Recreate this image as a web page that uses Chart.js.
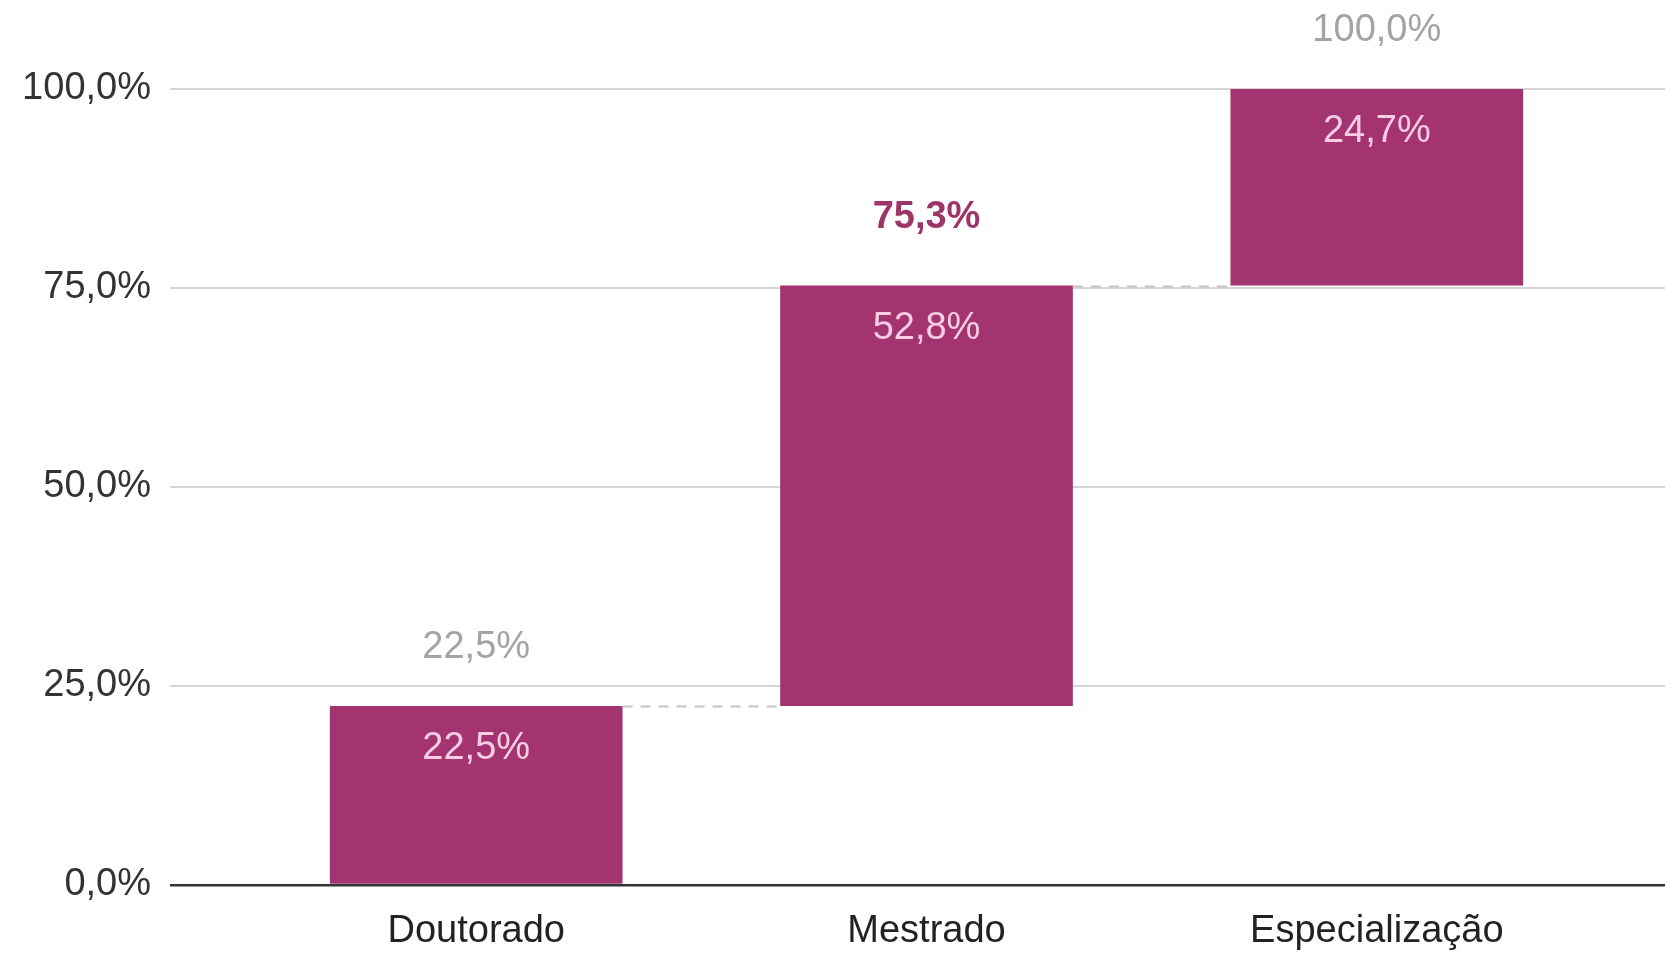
<!DOCTYPE html>
<html>
<head>
<meta charset="utf-8">
<script src="https://cdn.jsdelivr.net/npm/chart.js@4/dist/chart.umd.min.js"></script>
<style>
  html, body { margin: 0; padding: 0; background: #fff; }
  #wrap { width: 1665px; height: 953px; }
</style>
</head>
<body>
<div id="wrap"><canvas id="waterfall"></canvas></div>
<script>
/* global Chart */

// data
const categories = ['Doutorado', 'Mestrado', 'Especialização'];
const shares = [22.5, 52.8, 24.7];
const starts = [0, 22.5, 75.3];
const totals = [22.5, 75.3, 100.0];
const yTicks = [0, 25, 50, 75, 100];
const highlighted = 1; // the bold total above Mestrado

const barColor = '#a3346f';
const fontFamily = '"Liberation Sans", Arial, sans-serif';

const fmt = (v) => v.toFixed(1).replace('.', ',') + '%';

// labels in and above the bars + dashed connectors
const waterfallLabels = {
  id: 'waterfallLabels',
  afterDatasetsDraw(chart) {
    const { ctx } = chart;
    const yScale = chart.scales.y;
    const meta = chart.getDatasetMeta(0);
    ctx.save();

    // connectors
    ctx.strokeStyle = '#c4c4c4';
    ctx.lineWidth = 2;
    ctx.setLineDash([10, 8]);
    for (let i = 0; i < meta.data.length - 1; i++) {
      const a = meta.data[i];
      const b = meta.data[i + 1];
      const y = Math.round(yScale.getPixelForValue(totals[i])) + 0.5;
      ctx.beginPath();
      ctx.moveTo(a.x + a.width / 2, y);
      ctx.lineTo(b.x - b.width / 2, y);
      ctx.stroke();
    }
    ctx.setLineDash([]);

    ctx.textAlign = 'center';
    ctx.textBaseline = 'middle';
    meta.data.forEach((bar, i) => {
      const top = yScale.getPixelForValue(totals[i]);
      ctx.font = '38px ' + fontFamily;
      ctx.fillStyle = '#f7cde3';
      ctx.fillText(fmt(shares[i]), bar.x, top + 43);

      if (i === highlighted) {
        ctx.font = 'bold 38px ' + fontFamily;
        ctx.fillStyle = '#9e3569';
        ctx.fillText(fmt(totals[i]), bar.x, top - 68);
      } else {
        ctx.font = '38px ' + fontFamily;
        ctx.fillStyle = '#a3a3a3';
        ctx.fillText(fmt(totals[i]), bar.x, top - 58);
      }
    });
    ctx.restore();
  },
};

const data = {
  datasets: [{
    data: categories.map((c, i) => ({ x: i, y: [starts[i], totals[i]] })),
    backgroundColor: barColor,
    borderWidth: 0,
    barPercentage: 0.65,
    categoryPercentage: 1,
  }],
};

const config = {
  type: 'bar',
  data,
  options: {
    responsive: true,
    maintainAspectRatio: false,
    animation: false,
    layout: { padding: { top: 89, right: 0, left: 0, bottom: 0 } },
    plugins: {
      legend: { display: false },
      tooltip: { enabled: false },
    },
    scales: {
      x: {
        type: 'linear',
        min: -0.68,
        max: 2.64,
        offset: false,
        grid: { display: false, drawTicks: false },
        border: { display: false },
        afterBuildTicks(scale) {
          scale.ticks = categories.map((c, i) => ({ value: i }));
        },
        afterFit(scale) { scale.paddingLeft = 0; scale.paddingRight = 0; scale.height = 68; },
        ticks: {
          autoSkip: false,
          maxRotation: 0,
          padding: 24,
          color: '#222',
          font: { family: fontFamily, size: 38 },
          callback: (v) => categories[v],
        },
      },
      y: {
        min: 0,
        max: 100,
        afterBuildTicks(scale) {
          scale.ticks = yTicks.map((v) => ({ value: v }));
        },
        afterFit(scale) { scale.width = 170; },
        grid: {
          drawTicks: false,
          color: (c) => (c.tick && c.tick.value === 0 ? '#333' : '#d6d6d6'),
          lineWidth: (c) => (c.tick && c.tick.value === 0 ? 2.5 : 2),
        },
        border: { display: false },
        ticks: {
          padding: 19,
          color: '#333',
          font: { family: fontFamily, size: 38 },
          callback: (v) => fmt(v),
        },
      },
    },
  },
  plugins: [waterfallLabels],
};

const canvas = document.getElementById('waterfall');
const myChart = new Chart(canvas.getContext('2d'), config);
</script>
</body>
</html>
